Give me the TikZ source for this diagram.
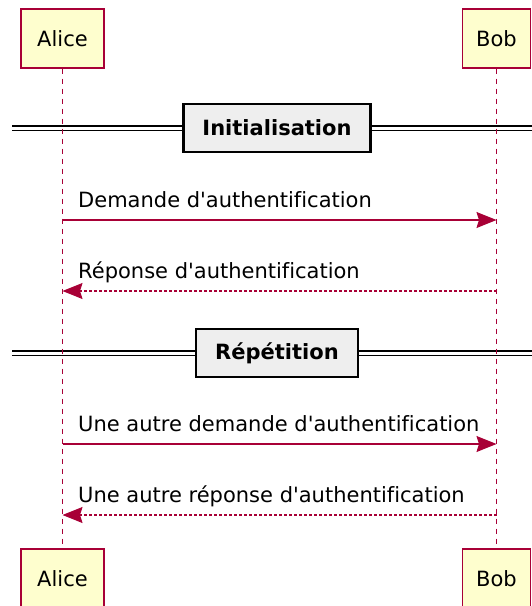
\documentclass[tikz,border=0pt]{standalone}
\usepackage{fontspec}
\setmainfont{DejaVu Sans}[Ligatures={NoCommon}]
\usetikzlibrary{arrows.meta,calc}
\definecolor{plum}{HTML}{A80036}
\definecolor{pfill}{HTML}{FEFECE}
\definecolor{dfill}{HTML}{EEEEEE}
\tikzset{
 participant/.style={draw=plum, fill=pfill, line width=1.1pt, minimum height=59pt, inner sep=0pt, text=black},
 lifeline/.style={draw=plum, line width=1.1pt, dash pattern=on 5pt off 5pt},
 msg/.style={draw=plum, line width=1.1pt, -{Stealth[length=20pt,width=16pt,inset=2.5pt]}},
 ret/.style={msg, dash pattern=on 2.5pt off 2.5pt},
 msglabel/.style={anchor=base west, inner sep=0pt, text=black},
 divider/.style={draw=black, fill=dfill, line width=2.5pt, minimum height=48pt, inner xsep=19pt, font=\fontsize{21}{25}\selectfont\bfseries},
 divline/.style={draw=black, double=white, double distance=3pt, line width=1.1pt}
}
\begin{document}
\begin{tikzpicture}[x=1pt,y=-1pt,font=\fontsize{21}{25}\selectfont]
\useasboundingbox (0,0) rectangle (531,606);
% dividers
\node[divider] (d1) at (277,128) {Initialisation};
\coordinate (d1l) at (12,128);
\coordinate (d1r) at (545,128);
\draw[divline] (d1l) -- (d1.west);
\draw[divline] (d1.east) -- (d1r);
\node[divider] (d2) at (277,353) {Répétition};
\coordinate (d2l) at (12,353);
\coordinate (d2r) at (545,353);
\draw[divline] (d2l) -- (d2.west);
\draw[divline] (d2.east) -- (d2r);
% participants
\node[participant, minimum width=83pt] (at) at (62.5,38.5) {Alice};
\node[participant, minimum width=68pt] (bt) at (496.5,38.5) {Bob};
\node[participant, minimum width=83pt] (ab) at (62.5,578.5) {Alice};
\node[participant, minimum width=68pt] (bb) at (496.5,578.5) {Bob};
\draw[lifeline] (at) -- (ab);
\draw[lifeline] (bt) -- (bb);
% messages
\coordinate (a1) at (62.5,220);
\coordinate (b1) at (496.5,220);
\draw[msg] (a1) -- (b1);
\node[msglabel] (l1) at ($(a1)+(15.5,-13)$) {Demande d\textquotesingle authentification};
\coordinate (a2) at (62.5,291);
\coordinate (b2) at (496.5,291);
\draw[ret] (b2) -- (a2);
\node[msglabel] (l2) at ($(a2)+(15.5,-13)$) {Réponse d\textquotesingle authentification};
\coordinate (a3) at (62.5,444);
\coordinate (b3) at (496.5,444);
\draw[msg] (a3) -- (b3);
\node[msglabel] (l3) at ($(a3)+(15.5,-13)$) {Une autre demande d\textquotesingle authentification};
\coordinate (a4) at (62.5,515);
\coordinate (b4) at (496.5,515);
\draw[ret] (b4) -- (a4);
\node[msglabel] (l4) at ($(a4)+(15.5,-13)$) {Une autre réponse d\textquotesingle authentification};
\end{tikzpicture}
\end{document}
